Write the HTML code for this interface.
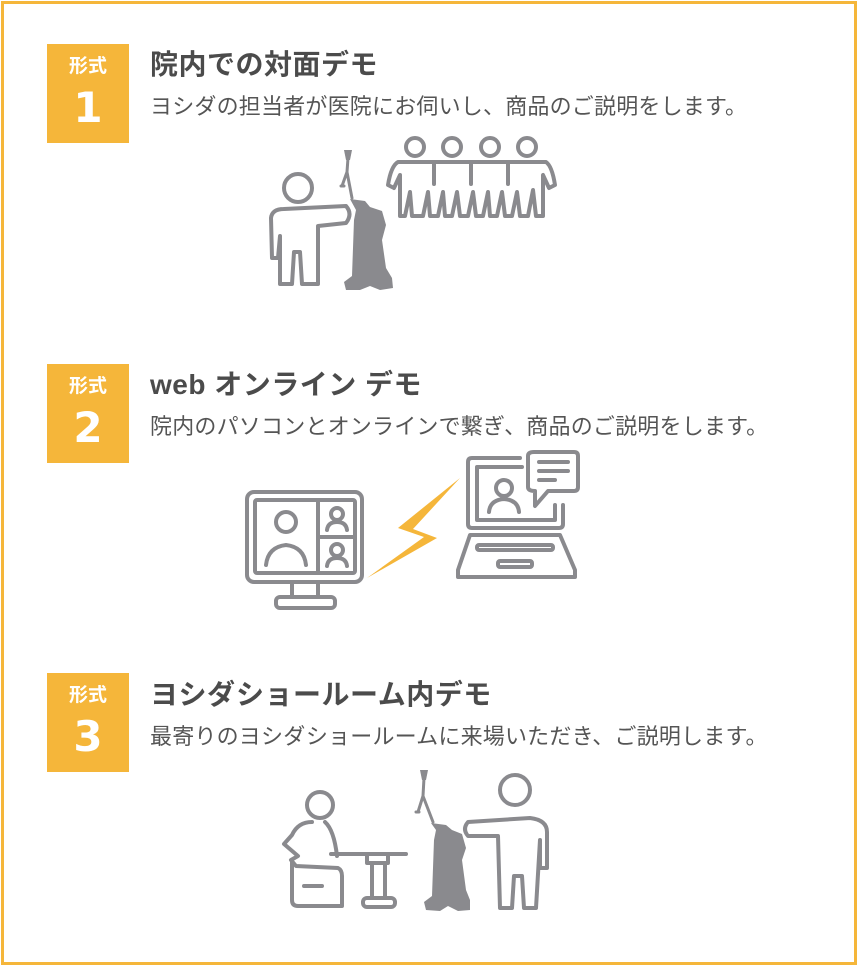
<!DOCTYPE html>
<html><head><meta charset="utf-8"><style>
body{margin:0;background:#fff;}
.wrap{position:relative;width:858px;height:966px;overflow:hidden;font-family:"Liberation Sans","Noto Sans CJK JP",sans-serif;}
.frame{position:absolute;left:1px;top:1px;width:850px;height:958px;border:3px solid #f5b63a;}
.badge{position:absolute;left:47px;width:82px;height:99px;background:#f5b63a;color:#fff;text-align:center;}
.badge .k{font-size:19px;font-weight:bold;margin-top:12px;line-height:22px;}
.badge .n{font-family:"DejaVu Sans",sans-serif;font-size:42px;font-weight:bold;line-height:50px;margin-top:5px;}
.t{position:absolute;left:150px;font-size:28px;font-weight:bold;color:#4b4b4b;white-space:nowrap;letter-spacing:0.5px;}
.s{position:absolute;left:150px;font-size:22px;color:#555;white-space:nowrap;letter-spacing:0.2px;}
svg{position:absolute;left:0;top:0;}
</style></head><body><div class="wrap">
<div class="frame"></div>
<div class="badge" style="top:44px"><div class="k">形式</div><div class="n">1</div></div>
<div class="t" style="top:43px">院内での対面デモ</div>
<div class="s" style="top:89px">ヨシダの担当者が医院にお伺いし、商品のご説明をします。</div>
<div class="badge" style="top:364px"><div class="k">形式</div><div class="n">2</div></div>
<div class="t" style="top:363px">web オンライン デモ</div>
<div class="s" style="top:409px">院内のパソコンとオンラインで繋ぎ、商品のご説明をします。</div>
<div class="badge" style="top:673px"><div class="k">形式</div><div class="n">3</div></div>
<div class="t" style="top:673px">ヨシダショールーム内デモ</div>
<div class="s" style="top:719px">最寄りのヨシダショールームに来場いただき、ご説明します。</div>
<svg width="858" height="966" fill="none" stroke="#8a8a8e" stroke-width="4" stroke-linecap="round" stroke-linejoin="round">
<!-- section1 -->
<circle cx="298" cy="188" r="14"/>
<path d="M284,209 L346,206 Q353,214 346,223 L318,226 L318,284 L302,284 L300,252 L294,252 L292,284 L280,284 L280,236 L278,258 L272,258 L271,218 Q272,209 284,209"/>
<g stroke-width="3">
<path d="M348,158 L347,172 L352,198 M347,172 L342,186 M344,186 L341,186"/>
</g>
<g fill="#8a8a8e" stroke="none">
<polygon points="344,150 352,150 350,160 346,160"/>
<path d="M350,199 L365,201 L370,207 L382,211 L386,225 L382,240 L386,268 L392,278 L393,288 L380,290 L370,286 L360,290 L346,290 L344,282 L352,276 L354,220 L356,210 Z"/>
</g>
<circle cx="415" cy="147" r="9"/><circle cx="452" cy="147" r="9"/><circle cx="490" cy="147" r="9"/><circle cx="527" cy="147" r="9"/>
<path d="M398,162 L546,162 Q552,166 555,185 L549,188 L543,175 L543,216 L536,216 L533,190 L528,216 L520,216 L517,192 L512,216 L505,216 L502,192 L497,216 L490,216 L488,192 L483,216 L476,216 L473,192 L468,216 L460,216 L457,192 L452,216 L445,216 L443,192 L438,216 L430,216 L428,192 L423,216 L412,216 L410,192 L405,216 L400,216 L400,175 L394,188 L388,185 Q391,166 398,162 Z"/>
<path d="M434,162 V184 M471,162 V184 M508,162 V184"/>
<!-- section2 -->
<rect x="247" y="492" width="115" height="90" rx="7"/>
<rect x="255" y="500" width="100" height="73" rx="2"/>
<path d="M318,500 V573 M318,537 H355 M292,582 V597 M318,582 V597"/>
<rect x="276" y="597" width="59" height="11" rx="4"/>
<circle cx="286" cy="522" r="10"/><path d="M266,565 Q268,547 286,545 Q304,547 306,565"/>
<circle cx="337" cy="514" r="6"/><path d="M327,530 Q328,522 337,522 Q346,522 347,530"/>
<circle cx="337" cy="550" r="6"/><path d="M327,566 Q328,558 337,558 Q346,558 347,566"/>
<polygon fill="#f5b63a" stroke="none" points="460,478 398,528 424,537 367,578 437,538 413,529"/>
<path d="M520,458 H472 Q468,458 468,462 V524 Q468,528 472,528 H559 Q563,528 563,524 V505"/>
<path d="M522,467 H477 V520 H555 V505"/>
<path d="M534,452 H574 Q578,452 578,456 V487 Q578,491 574,491 H548 L535,506 V491 Q528,491 528,487 V456 Q528,452 534,452 Z M539,462 H568 M539,471 H568 M539,480 H555"/>
<circle cx="504" cy="488" r="8"/><path d="M489,512 Q490,500 504,499 Q518,500 519,512"/>
<path d="M470,535 H560 L575,570 V577 H458 V570 Z"/>
<rect x="477" y="545" width="76" height="5" rx="2"/><rect x="498" y="561" width="34" height="6" rx="2"/>
<!-- section3 -->
<circle cx="320" cy="805" r="13"/>
<path d="M312,822 Q298,822 292,835 L284,844 L298,856 L291,860 L296,866 L338,868 Q342,870 342,876 V906 L298,906 Q292,906 292,900 V862"/>
<path d="M325,822 Q334,830 337,856 M304,886 H322"/>
<path d="M331,854 H406"/>
<rect x="367" y="854" width="21" height="9"/><path d="M372,863 V898 M385,863 V898"/>
<rect x="363" y="898" width="32" height="9" rx="4"/>
<g stroke-width="3">
<path d="M424,778 L423,796 L433,822 M423,796 L418,812 M419,812 L416,812"/>
</g>
<g fill="#8a8a8e" stroke="none">
<polygon points="420,770 428,770 426,780 422,780"/>
<path d="M431,823 L446,825 L452,830 L462,834 L466,848 L462,860 L466,890 L470,900 L470,910 L458,911 L448,906 L440,911 L426,910 L424,902 L432,896 L434,840 L436,830 Z"/>
</g>
<circle cx="515" cy="790" r="15"/>
<path d="M468,822 L530,818 Q547,820 547,832 V868 L540,868 L540,840 L536,908 L524,908 L522,876 L514,876 L512,908 L500,908 L498,836 L468,836 Q462,829 468,822 Z"/>
</svg>
</div></body></html>
